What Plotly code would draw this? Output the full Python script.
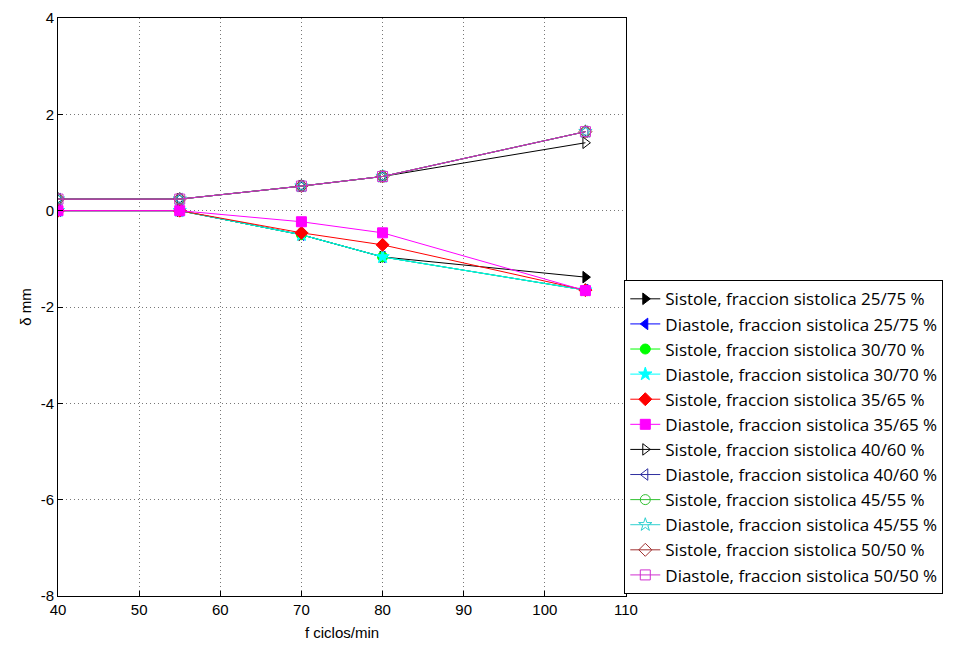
import plotly.graph_objects as go

freq = [40, 55, 70, 80, 105]

names = [
    "Sistole, fraccion sistolica 25/75 %",
    "Diastole, fraccion sistolica 25/75 %",
    "Sistole, fraccion sistolica 30/70 %",
    "Diastole, fraccion sistolica 30/70 %",
    "Sistole, fraccion sistolica 35/65 %",
    "Diastole, fraccion sistolica 35/65 %",
    "Sistole, fraccion sistolica 40/60 %",
    "Diastole, fraccion sistolica 40/60 %",
    "Sistole, fraccion sistolica 45/55 %",
    "Diastole, fraccion sistolica 45/55 %",
    "Sistole, fraccion sistolica 50/50 %",
    "Diastole, fraccion sistolica 50/50 %",
]

s_25_75 = [0.0, 0.0, -0.50, -0.96, -1.38]
d_25_75 = [0.0, 0.0, -0.50, -0.96, -1.65]
s_30_70 = [0.0, 0.0, -0.50, -0.96, -1.65]
d_30_70 = [0.0, 0.0, -0.50, -0.96, -1.65]
s_35_65 = [0.0, 0.0, -0.46, -0.71, -1.65]
d_35_65 = [0.0, 0.0, -0.23, -0.46, -1.66]
s_40_60 = [0.24, 0.24, 0.51, 0.71, 1.41]
d_40_60 = [0.24, 0.24, 0.51, 0.71, 1.64]
s_45_55 = [0.24, 0.24, 0.51, 0.71, 1.64]
d_45_55 = [0.24, 0.24, 0.51, 0.71, 1.64]
s_50_50 = [0.24, 0.24, 0.51, 0.71, 1.64]
d_50_50 = [0.24, 0.24, 0.51, 0.71, 1.64]

series = [s_25_75, d_25_75, s_30_70, d_30_70, s_35_65, d_35_65,
          s_40_60, d_40_60, s_45_55, d_45_55, s_50_50, d_50_50]

x_ticks = [40, 50, 60, 70, 80, 90, 100, 110]
x_tick_labels = ["40", "50", "60", "70", "80", "90", "100", "110"]
y_ticks = [-8, -6, -4, -2, 0, 2, 4]
y_tick_labels = ["-8", "-6", "-4", "-2", "0", "2", "4"]

colors = ["#000000", "#0000ff", "#00ff00", "#00ffff", "#ff0000", "#ff00ff",
          "#000000", "#3030a0", "#30c030", "#30d0d0", "#a03030", "#d030d0"]
symbols = ["triangle-right", "triangle-left", "circle", "star", "diamond", "square",
           "triangle-right-open", "triangle-left-open", "circle-open", "star-open",
           "diamond-open", "square-open"]

FONT = "Liberation Sans, Arial, Helvetica"

fig = go.Figure()
for i, (nm, ys) in enumerate(zip(names, series)):
    fig.add_trace(go.Scatter(
        x=freq, y=ys, name=nm, mode="lines+markers",
        line=dict(color=colors[i], width=1),
        marker=dict(symbol=symbols[i], size=10, color=colors[i],
                    line=dict(color=colors[i], width=1)),
    ))

axis_common = dict(
    showline=True, linecolor="black", linewidth=1, mirror=True,
    ticks="inside", ticklen=5, tickcolor="black",
    showgrid=True, gridcolor="#777777", griddash="1px,3px", gridwidth=1,
    zeroline=False,
    tickfont=dict(family=FONT, size=15, color="black"),
)

fig.update_xaxes(range=[40, 110], tickvals=x_ticks, ticktext=x_tick_labels,
                 title=dict(text="f ciclos/min", standoff=10,
                            font=dict(family=FONT, size=15, color="black")),
                 **axis_common)
fig.update_yaxes(range=[-8, 4], tickvals=y_ticks, ticktext=y_tick_labels,
                 title=dict(text="δ mm", standoff=5,
                            font=dict(family=FONT, size=15, color="black")),
                 **axis_common)

fig.update_layout(
    width=958, height=646,
    margin=dict(l=50, r=340, t=10, b=58, autoexpand=False),
    paper_bgcolor="white", plot_bgcolor="white",
    showlegend=True,
    legend=dict(
        x=0.997, y=0.003, xanchor="left", yanchor="bottom",
        bordercolor="black", borderwidth=1, bgcolor="white",
        font=dict(family="Open Sans", size=17, color="black"),
        tracegroupgap=0,
    ),
)

fig.write_html("out.html")
